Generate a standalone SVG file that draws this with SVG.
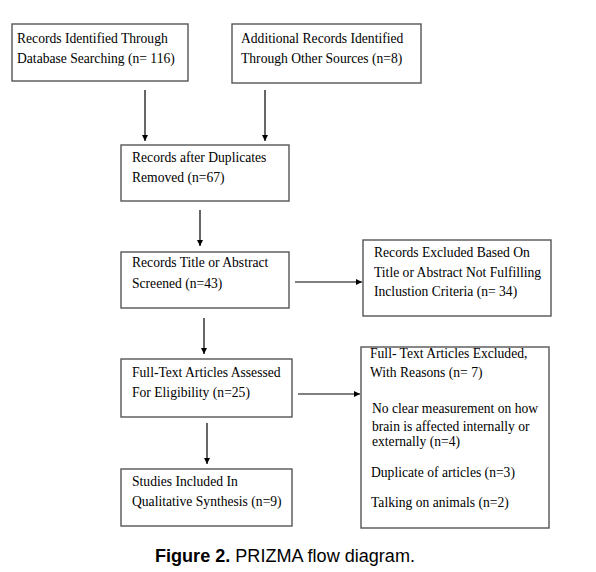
<svg xmlns="http://www.w3.org/2000/svg" width="596" height="572" viewBox="0 0 596 572">
<defs>
<marker id="ah" viewBox="0 0 10 10" refX="10" refY="5" markerWidth="6" markerHeight="6" markerUnits="userSpaceOnUse" orient="auto">
<path d="M0,0 L10,5 L0,10 z" fill="#000"/>
</marker>
</defs>
<style>
.box{fill:#fff;stroke:#555;stroke-width:1.4}
.t{font-family:"Liberation Serif","Times New Roman",serif;font-size:13.6px;fill:#000}
.c{stroke:#000;stroke-width:1.2;fill:none;marker-end:url(#ah)}
.cap{font-family:"Liberation Sans",Arial,sans-serif;font-size:17.5px;fill:#000}
</style>
<rect width="596" height="572" fill="#fff"/>
<g id="connectors">
<line class="c" x1="145" y1="90" x2="145" y2="141"/>
<line class="c" x1="265" y1="90" x2="265" y2="141"/>
<line class="c" x1="200" y1="210" x2="200" y2="246"/>
<line class="c" x1="295" y1="282" x2="362" y2="282"/>
<line class="c" x1="204" y1="318" x2="204" y2="354"/>
<line class="c" x1="298" y1="394" x2="360" y2="394"/>
<line class="c" x1="207" y1="423" x2="207" y2="464"/>
</g>
<g id="n1"><rect class="box" x="12" y="24" width="176" height="57"/>
<text class="t" x="17" y="43">Records Identified Through</text>
<text class="t" x="17" y="63">Database Searching (n= 116)</text></g>
<g id="n2"><rect class="box" x="232" y="24" width="189" height="59"/>
<text class="t" x="241" y="43">Additional Records Identified</text>
<text class="t" x="241" y="63">Through Other Sources (n=8)</text></g>
<g id="n3"><rect class="box" x="121" y="145" width="168" height="56"/>
<text class="t" x="132" y="162">Records after Duplicates</text>
<text class="t" x="132" y="182">Removed (n=67)</text></g>
<g id="n4"><rect class="box" x="121" y="252" width="168" height="56"/>
<text class="t" x="132" y="267">Records Title or Abstract</text>
<text class="t" x="132" y="288">Screened (n=43)</text></g>
<g id="n5"><rect class="box" x="363" y="240" width="188" height="76"/>
<text class="t" x="374" y="257">Records Excluded Based On</text>
<text class="t" x="374" y="277">Title or Abstract Not Fulfilling</text>
<text class="t" x="374" y="296">Inclustion Criteria (n= 34)</text></g>
<g id="n6"><rect class="box" x="121" y="359" width="171" height="58"/>
<text class="t" x="132" y="377">Full-Text Articles Assessed</text>
<text class="t" x="132" y="397">For Eligibility (n=25)</text></g>
<g id="n7"><rect class="box" x="121" y="469" width="171" height="57"/>
<text class="t" x="132" y="486">Studies Included In</text>
<text class="t" x="132" y="506">Qualitative Synthesis (n=9)</text></g>
<g id="n8"><rect class="box" x="361" y="347" width="188" height="181"/>
<text class="t" x="370" y="358">Full- Text Articles Excluded,</text>
<text class="t" x="370" y="377">With Reasons (n= 7)</text>
<text class="t" x="372" y="413">No clear measurement on how</text>
<text class="t" x="372" y="431">brain is affected internally or</text>
<text class="t" x="372" y="446">externally (n=4)</text>
<text class="t" x="371" y="477">Duplicate of articles (n=3)</text>
<text class="t" x="371" y="507">Talking on animals (n=2)</text></g>
<text class="cap" x="155" y="562" textLength="260" lengthAdjust="spacingAndGlyphs"><tspan font-weight="bold">Figure 2.</tspan> PRIZMA flow diagram.</text>
</svg>
